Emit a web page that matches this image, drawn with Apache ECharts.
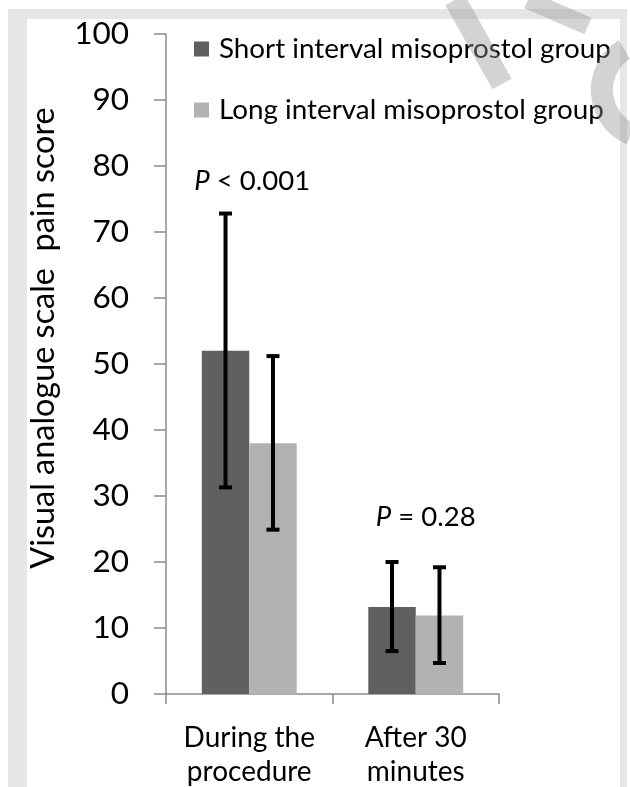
<!DOCTYPE html>
<html><head><meta charset="utf-8">
<script src="https://cdn.jsdelivr.net/npm/echarts@6/dist/echarts.min.js"></script>
<style>html,body{margin:0;padding:0;background:#fff}#c{width:630px;height:787px}</style>
</head><body><div id="c"></div>
<script>
const categories = ['During the\nprocedure', 'After 30\nminutes'];
const seriesNames = ['Short interval misoprostol group', 'Long interval misoprostol group'];
const shortMean = [52, 13.2];
const shortLow = [31.3, 6.5];
const shortHigh = [72.8, 20.0];
const longMean = [38, 11.9];
const longLow = [24.9, 4.7];
const longHigh = [51.2, 19.2];
const pLabels = ['< 0.001', '= 0.28'];
const pLabelValues = [77.7, 26.8];
const yAxisTitle = 'Visual analogue scale  pain score';

const colors = ['#606060', '#b2b2b2'];
const FONT = 'Lato';
const BAR_FRAC = 0.285;
const P_X_OFFSETS = [3, 10];

function errSeries(idx, low, high) {
  return {
    type: 'custom',
    z: 10,
    silent: true,
    data: low.map((l, i) => [i, l, high[i]]),
    renderItem: function (params, api) {
      const ci = api.value(0);
      const band = api.size([1, 0])[0];
      const off = (idx === 0 ? -1 : 1) * band * BAR_FRAC / 2;
      const lo = api.coord([ci, api.value(1)]);
      const hi = api.coord([ci, api.value(2)]);
      const x = lo[0] + off;
      const cap = 6.5;
      const st = { stroke: '#000', lineWidth: 4 };
      return {
        type: 'group',
        children: [
          { type: 'line', shape: { x1: x, y1: lo[1], x2: x, y2: hi[1] }, style: st },
          { type: 'line', shape: { x1: x - cap, y1: lo[1], x2: x + cap, y2: lo[1] }, style: st },
          { type: 'line', shape: { x1: x - cap, y1: hi[1], x2: x + cap, y2: hi[1] }, style: st }
        ]
      };
    }
  };
}

const chart = echarts.init(document.getElementById('c'), null, { renderer: 'canvas' });
const option = {
  animation: false,
  backgroundColor: '#ffffff',
  textStyle: { fontFamily: FONT },
  grid: { left: 166, right: 131, top: 34, bottom: 93, containLabel: false, outerBoundsMode: 'none' },
  legend: {
    orient: 'vertical',
    left: 189,
    top: 30,
    itemWidth: 15,
    itemHeight: 15,
    itemGap: 33,
    icon: 'rect',
    selectedMode: false,
    textStyle: { fontFamily: FONT, fontSize: 27.8, color: '#000', padding: [0, 0, 0, 5] },
    data: seriesNames
  },
  xAxis: {
    type: 'category',
    data: categories,
    axisLine: { lineStyle: { color: '#8c8c8c', width: 1.5 } },
    axisTick: { show: true, length: 10, lineStyle: { color: '#8c8c8c', width: 1.5 } },
    axisLabel: { interval: 0, hideOverlap: false, fontFamily: FONT, fontSize: 28, color: '#000', lineHeight: 34, margin: 27 }
  },
  yAxis: {
    type: 'value',
    min: 0, max: 100, interval: 10,
    splitLine: { show: false },
    axisLine: { show: true, lineStyle: { color: '#8c8c8c', width: 1.5 } },
    axisTick: { show: true, length: 12, lineStyle: { color: '#8c8c8c', width: 1.5 } },
    axisLabel: { fontFamily: FONT, fontSize: 31.5, color: '#000', margin: 37 }
  },
  series: [
    { name: seriesNames[0], type: 'bar', data: shortMean, barWidth: (BAR_FRAC * 100) + '%', barGap: '0%', itemStyle: { color: colors[0] } },
    { name: seriesNames[1], type: 'bar', data: longMean, barWidth: (BAR_FRAC * 100) + '%', barGap: '0%', itemStyle: { color: colors[1] } },
    errSeries(0, shortLow, shortHigh),
    errSeries(1, longLow, longHigh)
  ]
};
chart.setOption(option);

const wm = { stroke: 'rgba(150,150,150,0.42)', lineWidth: 22, fill: null, lineCap: 'butt' };
const graphics = [
  { type: 'rect', z: -100, silent: true, shape: { x: 8, y: 9, width: 619, height: 778 }, style: { fill: '#e6e6e8' } },
  { type: 'rect', z: -99, silent: true, shape: { x: 27, y: 19, width: 593, height: 768 }, style: { fill: '#ffffff' } },
  { type: 'line', z: 200, silent: true, shape: { x1: 455, y1: 0, x2: 502, y2: 84 }, style: wm },
  { type: 'line', z: 200, silent: true, shape: { x1: 528, y1: 0, x2: 588, y2: 26 }, style: Object.assign({}, wm, { lineWidth: 18 }) },
  { type: 'arc', z: 200, silent: true, shape: { cx: 650, cy: 90, r: 48, startAngle: Math.PI * 0.63, endAngle: Math.PI * 1.32 }, style: wm },
  { type: 'text', z: 100, x: 44, y: 338, rotation: Math.PI / 2, style: { text: yAxisTitle, fontFamily: FONT, fontSize: 32.4, fill: '#000', align: 'center', verticalAlign: 'middle' } }
];
pLabels.forEach((t, i) => {
  const p = chart.convertToPixel({ xAxisIndex: 0, yAxisIndex: 0 }, [i, pLabelValues[i]]);
  graphics.push({
    type: 'text', z: 100, x: p[0] + P_X_OFFSETS[i], y: p[1],
    style: {
      text: '{i|P} ' + t,
      fontFamily: FONT, fontSize: 27.5, fill: '#000', align: 'center', verticalAlign: 'middle',
      rich: { i: { fontStyle: 'italic', fontFamily: FONT, fontSize: 27.5, fill: '#000' } }
    }
  });
});
chart.setOption({ graphic: { elements: graphics } });
</script>
</body></html>
